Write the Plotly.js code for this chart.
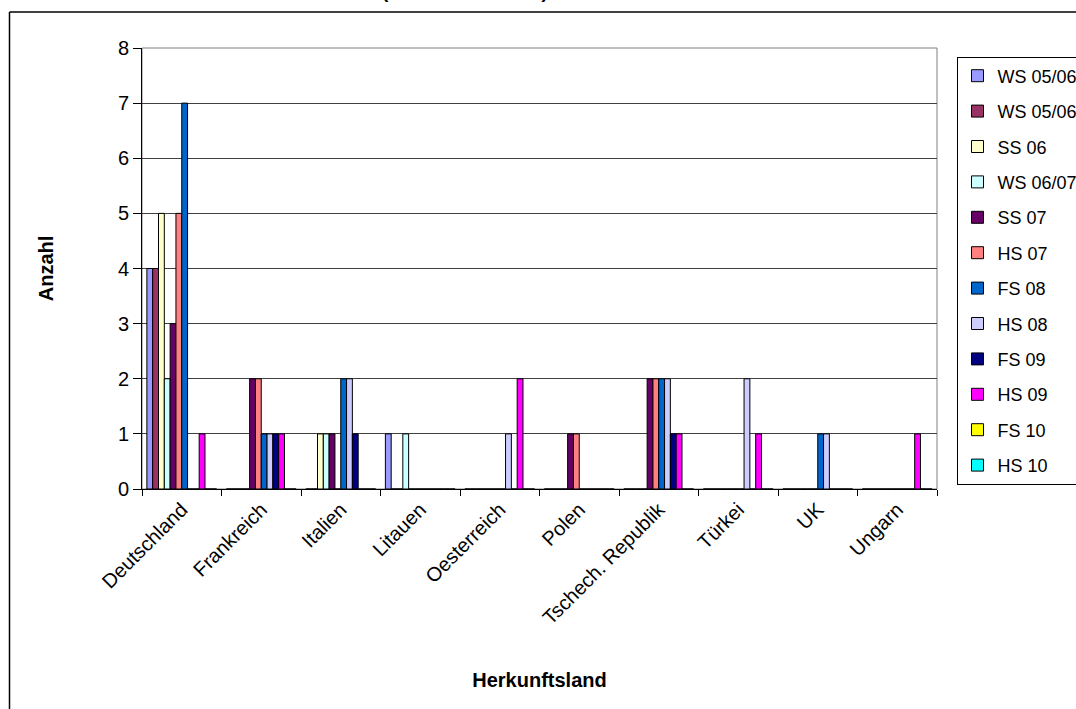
<!DOCTYPE html>
<html>
<head>
<meta charset="utf-8">
<script src="https://cdn.plot.ly/plotly-3.0.1.min.js"></script>
<style>
  html, body { margin: 0; padding: 0; background: #fff; }
  #chart { width: 1076px; height: 709px; }
</style>
</head>
<body>
<div id="chart"></div>
<script>
// Categories (x-axis)
const categories = ["Deutschland", "Frankreich", "Italien", "Litauen", "Oesterreich",
                    "Polen", "Tschech. Republik", "Türkei", "UK", "Ungarn"];

// Series names (legend order)
const seriesNames = ["WS 05/06", "WS 05/06", "SS 06", "WS 06/07", "SS 07", "HS 07",
                     "FS 08", "HS 08", "FS 09", "HS 09", "FS 10", "HS 10"];

// Values per series (one value per category)
const ws0506a = [4, 0, 0, 1, 0, 0, 0, 0, 0, 0];
const ws0506b = [4, 0, 0, 0, 0, 0, 0, 0, 0, 0];
const ss06    = [5, 0, 1, 0, 0, 0, 0, 0, 0, 0];
const ws0607  = [2, 0, 1, 1, 0, 0, 0, 0, 0, 0];
const ss07    = [3, 2, 1, 0, 0, 1, 2, 0, 0, 0];
const hs07    = [5, 2, 0, 0, 0, 1, 2, 0, 0, 0];
const fs08    = [7, 1, 2, 0, 0, 0, 2, 0, 1, 0];
const hs08    = [0, 1, 2, 0, 1, 0, 2, 2, 1, 0];
const fs09    = [0, 1, 1, 0, 0, 0, 1, 0, 0, 0];
const hs09    = [1, 1, 0, 0, 2, 0, 1, 1, 0, 1];
const fs10    = [0, 0, 0, 0, 0, 0, 0, 0, 0, 0];
const hs10    = [0, 0, 0, 0, 0, 0, 0, 0, 0, 0];

const seriesValues = [ws0506a, ws0506b, ss06, ws0607, ss07, hs07, fs08, hs08, fs09, hs09, fs10, hs10];

// Title text (only its lower edge is visible above the chart frame)
const chartTitle = "(WS 05/06 - HS 10)";

// Colours (style, kept separate from data)
const seriesColors = ["#9999FF", "#993366", "#FFFFCC", "#CCFFFF", "#660066", "#FF8080",
                      "#0066CC", "#CCCCFF", "#000080", "#FF00FF", "#FFFF00", "#00FFFF"];

const traces = seriesNames.map((name, i) => ({
  type: "bar",
  name: name,
  x: categories,
  y: seriesValues[i],
  legendgroup: "g" + i,
  marker: {
    color: seriesColors[i],
    line: { color: "#000000", width: 1 }
  },
  hoverinfo: "x+y+name"
}));

// Geometry helpers (pixel -> paper)
const W = 1076, H = 709;
const L = 142, R = 937, T = 48, B = 489;
const px = v => (v - L) / (R - L);
const py = v => (B - v) / (B - T);

const FONT = "Arial, 'Liberation Sans', sans-serif";

const layout = {
  width: W,
  height: H,
  paper_bgcolor: "#ffffff",
  plot_bgcolor: "#ffffff",
  margin: { l: L, r: W - R, t: T, b: H - B, autoexpand: false },
  font: { family: FONT, size: 20, color: "#000000" },
  barmode: "group",
  bargap: 0.123,
  bargroupgap: 0,
  showlegend: true,
  legend: {
    x: px(956.5),
    y: py(56.5),
    xanchor: "left",
    yanchor: "top",
    bgcolor: "#ffffff",
    bordercolor: "#000000",
    borderwidth: 1,
    font: { family: FONT, size: 18, color: "#000000" },
    traceorder: "grouped",
    tracegroupgap: 9,
    itemwidth: 30
  },
  xaxis: {
    type: "category",
    tickson: "boundaries",
    ticks: "outside",
    ticklen: 6,
    tickcolor: "#000000",
    tickangle: -45,
    showline: true,
    linecolor: "#000000",
    linewidth: 1,
    showgrid: false,
    zeroline: false,
    tickfont: { family: FONT, size: 20 },
    title: {
      text: "Herkunftsland",
      font: { family: FONT, size: 20, weight: "bold" },
      standoff: 45
    },
    automargin: false
  },
  yaxis: {
    range: [0, 8],
    dtick: 1,
    tick0: 0,
    ticks: "outside",
    ticklen: 8,
    tickcolor: "#000000",
    showline: true,
    linecolor: "#000000",
    linewidth: 1,
    showgrid: true,
    gridcolor: "#404040",
    gridwidth: 1,
    zeroline: false,
    tickfont: { family: FONT, size: 20 },
    title: {
      text: "Anzahl",
      font: { family: FONT, size: 20, weight: "bold" },
      standoff: 58
    },
    automargin: false
  },
  annotations: [
    { text: chartTitle, xref: "paper", yref: "paper", x: px(465), y: py(4),
      xanchor: "center", yanchor: "bottom", showarrow: false,
      font: { family: FONT, size: 19, color: "#000000", weight: "bold" } }
  ],
  shapes: [
    // plot area border (grey)
    { type: "rect", xref: "paper", yref: "paper", x0: 0, x1: 1, y0: 0, y1: 1,
      line: { color: "#808080", width: 1 }, layer: "below" },
    // outer chart frame (top and left edges visible)
    { type: "line", xref: "paper", yref: "paper", x0: px(9.5), x1: px(1100), y0: py(12), y1: py(12),
      line: { color: "#000000", width: 1.5 } },
    { type: "line", xref: "paper", yref: "paper", x0: px(9.5), x1: px(9.5), y0: py(12), y1: py(740),
      line: { color: "#000000", width: 1.5 } }
  ]
};

Plotly.newPlot("chart", traces, layout, { displayModeBar: false, staticPlot: true });
</script>
</body>
</html>
